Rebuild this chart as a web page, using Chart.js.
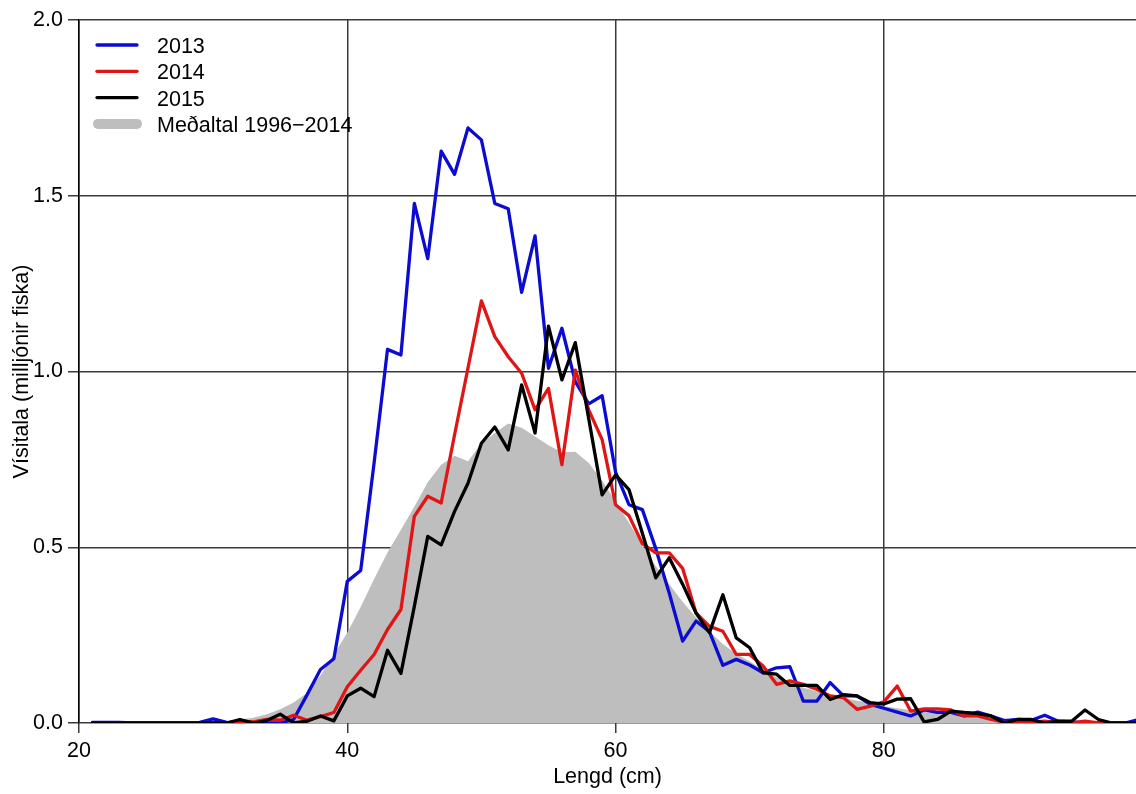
<!DOCTYPE html>
<html>
<head>
<meta charset="utf-8">
<script src="https://cdn.jsdelivr.net/npm/chart.js@4/dist/chart.umd.min.js"></script>
<style>
  html, body { margin: 0; padding: 0; background: #fff; }
  #wrap { width: 1136px; height: 794px; }
</style>
</head>
<body>
<div id="wrap"><canvas id="chart" width="1136" height="794"></canvas></div>
<script>
// length classes (cm)
const lengths = [
  21, 22, 23, 24, 25, 26, 27, 28, 29, 30,
  31, 32, 33, 34, 35, 36, 37, 38, 39, 40,
  41, 42, 43, 44, 45, 46, 47, 48, 49, 50,
  51, 52, 53, 54, 55, 56, 57, 58, 59, 60,
  61, 62, 63, 64, 65, 66, 67, 68, 69, 70,
  71, 72, 73, 74, 75, 76, 77, 78, 79, 80,
  81, 82, 83, 84, 85, 86, 87, 88, 89, 90,
  91, 92, 93, 94, 95, 96, 97, 98, 99
];

const idx2013 = [
  0.002, 0.002, 0.002, 0, 0, 0, 0, 0, 0.002, 0.012,
  0.002, 0, 0, 0, 0, 0.01, 0.08, 0.152, 0.183, 0.403,
  0.434, 0.74, 1.063, 1.047, 1.478, 1.321, 1.627, 1.561, 1.693, 1.659,
  1.478, 1.463, 1.225, 1.386, 1.009, 1.123, 0.971, 0.908, 0.931, 0.714,
  0.621, 0.607, 0.496, 0.37, 0.233, 0.29, 0.26, 0.164, 0.181, 0.165,
  0.143, 0.157, 0.16, 0.062, 0.062, 0.115, 0.077, 0.077, 0.053, 0.042,
  0.031, 0.02, 0.037, 0.03, 0.03, 0.02, 0.031, 0.02, 0.007, 0.01,
  0.008, 0.022, 0.005, 0.003, 0, 0, 0, 0, 0.01
];

const idx2014 = [
  0, 0, 0, 0, 0, 0, 0, 0, 0, 0,
  0, 0.005, 0.003, 0.01, 0.008, 0.022, 0.008, 0.018, 0.03, 0.103,
  0.15, 0.195, 0.266, 0.323, 0.588, 0.645, 0.626, 0.82, 1.01, 1.201,
  1.099, 1.042, 0.995, 0.891, 0.952, 0.735, 1.004, 0.891, 0.806, 0.621,
  0.59, 0.51, 0.484, 0.484, 0.44, 0.313, 0.275, 0.261, 0.195, 0.195,
  0.162, 0.11, 0.12, 0.11, 0.096, 0.077, 0.072, 0.039, 0.048, 0.06,
  0.105, 0.034, 0.04, 0.04, 0.037, 0.02, 0.02, 0.01, 0.002, 0,
  0.002, 0.005, 0, 0, 0.005, 0, 0, 0, 0
];

const idx2015 = [
  0, 0, 0, 0, 0, 0, 0, 0, 0, 0,
  0, 0.01, 0, 0.007, 0.025, 0, 0.005, 0.02, 0.006, 0.077,
  0.099, 0.075, 0.207, 0.141, 0.332, 0.531, 0.507, 0.602, 0.682, 0.796,
  0.842, 0.777, 0.962, 0.825, 1.129, 0.976, 1.082, 0.866, 0.649, 0.706,
  0.664, 0.54, 0.413, 0.47, 0.395, 0.313, 0.257, 0.365, 0.242, 0.214,
  0.143, 0.139, 0.107, 0.107, 0.107, 0.067, 0.081, 0.077, 0.058, 0.054,
  0.068, 0.069, 0.003, 0.01, 0.034, 0.03, 0.027, 0.02, 0, 0.01,
  0.01, 0, 0.005, 0.005, 0.037, 0.01, 0, 0, 0
];

// mean 1996-2014
const idxMean = [
  0, 0, 0, 0, 0, 0, 0, 0, 0.002, 0.004,
  0.006, 0.01, 0.015, 0.025, 0.039, 0.058, 0.085, 0.135, 0.195, 0.257,
  0.33, 0.41, 0.485, 0.55, 0.615, 0.685, 0.735, 0.76, 0.745, 0.795,
  0.825, 0.852, 0.84, 0.815, 0.79, 0.77, 0.772, 0.74, 0.69, 0.63,
  0.57, 0.505, 0.446, 0.395, 0.345, 0.3, 0.26, 0.225, 0.196, 0.176,
  0.15, 0.13, 0.116, 0.1, 0.09, 0.082, 0.072, 0.063, 0.056, 0.048,
  0.042, 0.036, 0.031, 0.028, 0.025, 0.021, 0.018, 0.015, 0.012, 0.01,
  0.008, 0.006, 0.005, 0.003, 0.002, 0, 0, 0, 0
];

const xTicks = [20, 40, 60, 80];
const yTicks = [0, 0.5, 1.0, 1.5, 2.0];

const FONT = "'Liberation Sans', Arial, Helvetica, sans-serif";
const FSIZE = 21.5;
const gridColor = "#3a3a3a";

function pts(values) {
  return lengths.map((x, i) => ({ x: x, y: values[i] }));
}

function lineSet(label, values, color, order) {
  return {
    label: label,
    data: pts(values),
    borderColor: color,
    backgroundColor: color,
    borderWidth: 3.3,
    borderJoinStyle: "round",
    borderCapStyle: "round",
    pointRadius: 0,
    tension: 0,
    fill: false,
    order: order,
  };
}

const legendPlugin = {
  id: "cornerLegend",
  afterDraw(chart) {
    const ctx = chart.ctx;
    const items = [
      { text: "2013", color: "#0b0bd2", width: 3.3 },
      { text: "2014", color: "#e01616", width: 3.3 },
      { text: "2015", color: "#000000", width: 3.3 },
      { text: "Meðaltal 1996−2014", color: "#bebebe", width: 10 },
    ];
    ctx.save();
    ctx.font = FSIZE + "px " + FONT;
    ctx.textBaseline = "middle";
    ctx.fillStyle = "#000";
    ctx.lineCap = "round";
    items.forEach((it, i) => {
      const y = 45 + i * 26.3;
      ctx.strokeStyle = it.color;
      ctx.lineWidth = it.width;
      ctx.beginPath();
      ctx.moveTo(it.width > 5 ? 98 : 97, y);
      ctx.lineTo(137, y);
      ctx.stroke();
      ctx.fillText(it.text, 157, y + 2);
    });
    ctx.restore();
  },
};

new Chart(document.getElementById("chart").getContext("2d"), {
  type: "line",
  data: {
    datasets: [
      lineSet("2015", idx2015, "#000000", 1),
      lineSet("2014", idx2014, "#e01616", 2),
      lineSet("2013", idx2013, "#0b0bd2", 3),
      {
        label: "Meðaltal 1996-2014",
        data: pts(idxMean),
        borderWidth: 0,
        borderColor: "rgba(0,0,0,0)",
        backgroundColor: "#bebebe",
        pointRadius: 0,
        tension: 0,
        fill: "origin",
        order: 4,
      },
    ],
  },
  options: {
    responsive: false,
    animation: false,
    devicePixelRatio: 1,
    layout: { padding: { top: 20, right: 0, left: 0, bottom: 0 } },
    plugins: {
      legend: { display: false },
      tooltip: { enabled: false },
    },
    scales: {
      x: {
        type: "linear",
        min: 20,
        max: 98.8,
        afterBuildTicks: (s) => {
          s.ticks = xTicks.map((v) => ({ value: v }));
        },
        afterFit: (s) => {
          s.height = 71;
        },
        border: { display: false },
        grid: {
          color: gridColor,
          lineWidth: 1.5,
          tickLength: 10,
          tickColor: gridColor,
        },
        ticks: {
          color: "#000",
          font: { family: FONT, size: FSIZE },
          padding: 5,
          maxRotation: 0,
          autoSkip: false,
        },
        title: {
          display: true,
          text: "Lengd (cm)",
          color: "#000",
          font: { family: FONT, size: FSIZE },
          padding: { top: 0, bottom: 4 },
        },
      },
      y: {
        min: 0,
        max: 2,
        afterBuildTicks: (s) => {
          s.ticks = yTicks.map((v) => ({ value: v }));
        },
        afterFit: (s) => {
          s.width = 79;
        },
        border: { display: true, color: "#000", width: 1.5 },
        grid: {
          color: gridColor,
          lineWidth: 1.5,
          tickLength: 11,
          tickColor: gridColor,
        },
        ticks: {
          color: "#000",
          font: { family: FONT, size: FSIZE },
          padding: 5,
          callback: (v) => Number(v).toFixed(1),
        },
        title: {
          display: true,
          text: "Vísitala (milljónir fiska)",
          color: "#000",
          font: { family: FONT, size: FSIZE },
          padding: { top: 9, bottom: 0 },
        },
      },
    },
  },
  plugins: [legendPlugin],
});
</script>
</body>
</html>
